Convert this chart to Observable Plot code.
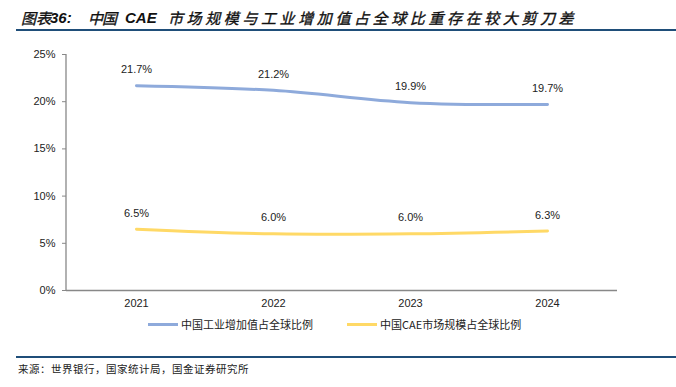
<!DOCTYPE html>
<html><head><meta charset="utf-8">
<script src="https://cdn.jsdelivr.net/npm/d3@7"></script>
<script src="https://cdn.jsdelivr.net/npm/@observablehq/plot@0.6"></script>
<style>
body{margin:0;background:#fff;}
#wrap{position:relative;width:676px;height:387px;overflow:hidden;font-family:"Liberation Sans",Arial,sans-serif;}
.t{position:absolute;top:8px;font-size:15px;font-style:italic;color:#111;white-space:nowrap;line-height:20px;}
.cjk{font-family:"Noto Sans CJK SC",sans-serif;font-weight:normal;-webkit-text-stroke:0.35px #111;}
.lat{font-family:"Liberation Sans",Arial,sans-serif;font-weight:bold;}
#rule1{position:absolute;left:16px;right:0;top:29px;height:2px;background:#1f4e79;}
#chart{position:absolute;left:0;top:40px;}
#legend{position:absolute;top:316px;left:0;width:676px;font-family:"Noto Sans CJK SC",sans-serif;font-size:11px;color:#222;}
.li{position:absolute;display:flex;align-items:center;white-space:nowrap;}
.sw{display:inline-block;width:30px;height:3px;margin-right:3px;}
#rule2{position:absolute;left:16px;right:0;top:356px;height:2px;background:#1f4e79;}
#src{position:absolute;left:18px;top:361px;font-family:"Noto Sans CJK SC",serif;font-size:10.5px;color:#222;letter-spacing:0.5px;white-space:nowrap;}
</style></head>
<body>
<div id="wrap">
  <span class="t cjk" style="left:21px">图表</span>
  <span class="t lat" style="left:50px">36:</span>
  <span class="t cjk" style="left:88px;letter-spacing:-1px">中国</span>
  <span class="t lat" style="left:125px">CAE</span>
  <span class="t cjk" style="left:168px;letter-spacing:3.6px">市场规模与工业增加值占全球比重存在较大剪刀差</span>
  <div id="rule1"></div>
  <div id="chart"></div>
  <div id="legend"></div>
  <div id="rule2"></div>
  <div id="src">来源：世界银行，国家统计局，国金证券研究所</div>
</div>
<script>
const years = ["2021","2022","2023","2024"];
const industryShare = [21.7, 21.2, 19.9, 19.7];
const caeShare = [6.5, 6.0, 6.0, 6.3];
const seriesNames = ["中国工业增加值占全球比例","中国CAE市场规模占全球比例"];
const seriesColors = ["#8eaadb","#ffd966"];
const yTicks = [0,5,10,15,20,25];

const rows = [];
years.forEach((y,i)=>{
  rows.push({year:y, value:industryShare[i], series:seriesNames[0]});
  rows.push({year:y, value:caeShare[i], series:seriesNames[1]});
});

const chart = Plot.plot({
  width: 676,
  height: 270,
  marginLeft: 66,
  marginRight: 59,
  marginTop: 14,
  marginBottom: 20,
  style: {fontFamily: "Liberation Sans, Arial, sans-serif", fontSize: "11px", color: "#333", background: "transparent"},
  x: {type: "point", domain: years, padding: 0.5, label: null},
  y: {domain: [0,25], label: null},
  color: {domain: seriesNames, range: seriesColors},
  marks: [
    Plot.ruleY([0], {stroke: "#888", strokeWidth: 1.3}),
    Plot.axisX({tickSize: 0, tickPadding: 9, label: null, fill: "#222"}),
    Plot.axisY({ticks: yTicks, tickFormat: d => d + "%", tickSize: 4, tickPadding: 7, stroke: "#888", fill: "#222", label: null}),
    Plot.lineY(rows, {x: "year", y: "value", z: "series", stroke: "series", strokeWidth: 3, curve: "catmull-rom"}),
    Plot.text(rows, {x: "year", y: "value", text: d => d.value.toFixed(1) + "%", dy: -16, fill: "#222", fontSize: 11})
  ]
});
const svg = d3.select(chart);
svg.append("line").attr("x1",66).attr("x2",66).attr("y1",14).attr("y2",250).attr("stroke","#888").attr("stroke-width",1.3);
document.getElementById("chart").appendChild(chart);

const lg = document.getElementById("legend");
const lefts = [148, 347];
seriesNames.forEach((n,i)=>{
  const d = document.createElement("div");
  d.className = "li";
  d.style.left = lefts[i] + "px";
  d.innerHTML = `<span class="sw" style="background:${seriesColors[i]}"></span><span>${n}</span>`;
  lg.appendChild(d);
});
</script>
</body></html>
